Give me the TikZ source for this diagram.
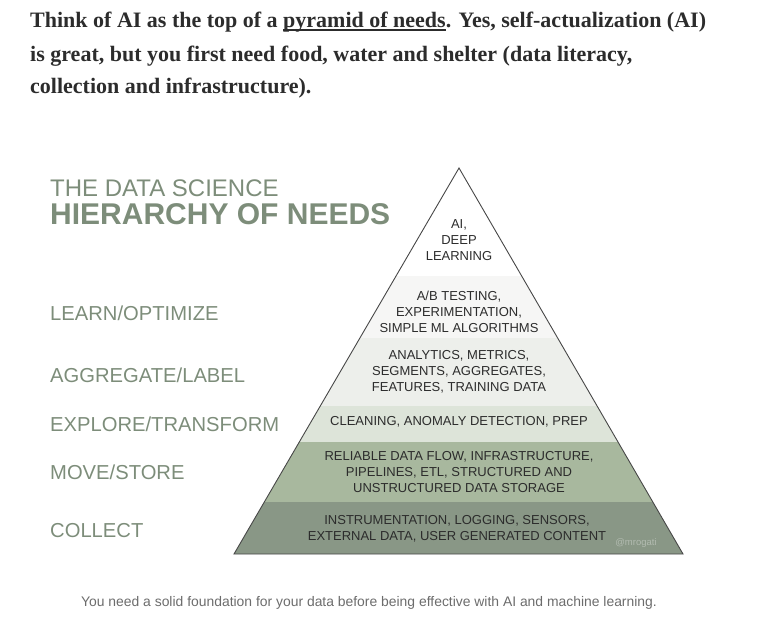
\documentclass[tikz,border=0pt]{standalone}
\usepackage{fontspec}
\setmainfont{Liberation Serif}
\newfontfamily\plainsans{Liberation Sans}
\usetikzlibrary{calc}
\definecolor{sage}{RGB}{125,141,122}
\definecolor{bandB}{RGB}{246,246,245}
\definecolor{bandC}{RGB}{237,239,235}
\definecolor{bandD}{RGB}{221,228,217}
\definecolor{bandE}{RGB}{168,184,158}
\definecolor{bandF}{RGB}{137,151,134}
\definecolor{inkdark}{RGB}{44,44,44}
\definecolor{capgray}{RGB}{108,108,108}
\newcommand\linkul[1]{\setbox0\hbox{#1}\rlap{\rule[-3pt]{\wd0}{1.6pt}}\box0}

\begin{document}
\begin{tikzpicture}[x=1pt, y=-1pt,
      head/.style={anchor=base west, inner sep=0pt, text=inkdark,
                   font=\fontsize{22}{26}\selectfont\bfseries},
      stage/.style={anchor=west, inner sep=0pt, text=sage,
                    font=\plainsans\fontsize{20.2}{22}\selectfont},
      tier/.style={align=center, inner sep=0pt, text=inkdark,
                   font=\plainsans\fontsize{13}{16}\selectfont},
      rim/.style={draw=black!72, line width=0.9pt, line join=miter}
    ]
      \useasboundingbox (0,0) rectangle (781,626);
      % intro text
      \node[head] (l1) at (30,28) {Think of AI as the top of a \linkul{pyramid of needs}. Yes, self-actualization (AI)};
      \node[head] (l2) at (30,61) {is great, but you first need food, water and shelter (data literacy,};
      \node[head] (l3) at (30,93) {collection and infrastructure).};
      % title
      \node[anchor=base west, inner sep=0pt, text depth=0pt, text=sage, font=\plainsans\fontsize{24}{26}\selectfont] (t1) at (50,196.5) {THE DATA SCIENCE};
      \node[anchor=base west, inner sep=0pt, text height=21pt, text=sage, font=\plainsans\fontsize{30}{32}\selectfont\bfseries] (t2) at (50,224) {HIERARCHY OF NEEDS};
      % pyramid
      \coordinate (apex) at (459,168);
      \coordinate (bl) at (234,554);
      \coordinate (br) at (683,554);
      \foreach \ya/\yb/\col in {276/338/bandB, 338/406/bandC, 406/442/bandD, 442/502/bandE, 502/554/bandF}{
        \pgfmathsetmacro\ta{(\ya-168)/386}
        \pgfmathsetmacro\tb{(\yb-168)/386}
        \fill[\col] ($(apex)!\ta!(bl)$) -- ($(apex)!\tb!(bl)$) -- ($(apex)!\tb!(br)$) -- ($(apex)!\ta!(br)$) -- cycle;
      }
      \draw[rim] (apex) -- (bl) -- (br) -- cycle;
      \node[tier] (ai) at (459,240) {AI,\\DEEP\\LEARNING};
      \node[tier] (ab) at (459,312) {A/B TESTING,\\EXPERIMENTATION,\\SIMPLE ML ALGORITHMS};
      \node[tier] (agg) at (459,372) {ANALYTICS, METRICS,\\SEGMENTS, AGGREGATES,\\FEATURES, TRAINING DATA};
      \node[tier] (clean) at (459,422) {CLEANING, ANOMALY DETECTION, PREP};
      \node[tier] (flow) at (459,472) {RELIABLE DATA FLOW, INFRASTRUCTURE,\\PIPELINES, ETL, STRUCTURED AND\\UNSTRUCTURED DATA STORAGE};
      \node[tier] (instr) at (457,529) {INSTRUMENTATION, LOGGING, SENSORS,\\EXTERNAL DATA, USER GENERATED CONTENT};
      \node[inner sep=0pt, text=bandF!65!white, font=\plainsans\fontsize{9.5}{10}\selectfont] (tag) at (636,543) {@mrogati};
      % stages
      \node[stage] (learn) at (50,313) {LEARN/OPTIMIZE};
      \node[stage] (label) at (50,375) {AGGREGATE/LABEL};
      \node[stage] (explore) at (50,424) {EXPLORE/TRANSFORM};
      \node[stage] (move) at (50,472) {MOVE/STORE};
      \node[stage] (collect) at (50,531) {COLLECT};
      % caption
      \node[inner sep=0pt, text=capgray, font=\plainsans\fontsize{13.9}{15}\selectfont] (cap) at (369,603) {You need a solid foundation for your data before being effective with AI and machine learning.};
    \end{tikzpicture}
\end{document}
